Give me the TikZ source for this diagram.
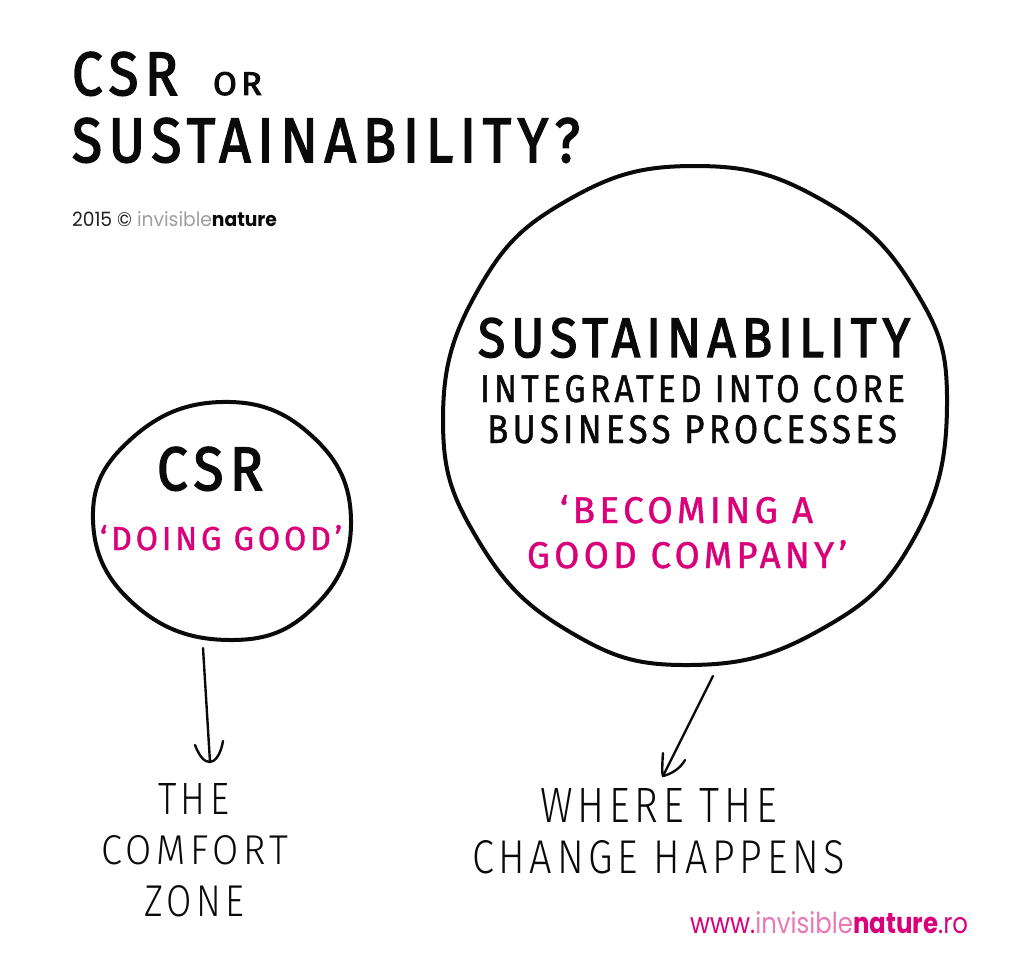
\documentclass[tikz,border=0pt]{standalone}
\usepackage{fontspec}
\usepackage{graphicx}
\usetikzlibrary{calc}
\newfontfamily\hand[LetterSpace=12,FakeBold=1.2]{Fira Sans}
\newfontfamily\handbold[LetterSpace=12,FakeBold=2.6]{Fira Sans}
\newfontfamily\handlight[LetterSpace=12]{Fira Sans Light}
\newfontfamily\geo{Poppins}
\definecolor{inpink}{RGB}{218,0,122}
\definecolor{inpinklight}{RGB}{234,120,180}
\definecolor{ink}{RGB}{10,10,10}
\newcommand\fitt[3]{\resizebox{#1pt}{#2pt}{#3}}
\begin{document}
\begin{tikzpicture}[x=1pt,y=-1pt,
  txt/.style={anchor=north west, inner sep=0pt, outer sep=0pt, text=ink},
  ring/.style={draw=ink, line width=4pt, line join=round},
  pointer/.style={draw=ink, line width=2.4pt, line cap=round, line join=round}]
\fill[white] (0,0) rectangle (1024,955);
\useasboundingbox (0,0) rectangle (1024,955);

% title
\node[txt] (t1) at (72,52) {\fitt{106}{43}{\handbold CSR}};
\node[txt] (t2) at (213,72) {\fitt{49}{23}{\handbold OR}};
\node[txt] (t3) at (72,118) {\fitt{508}{44}{\handbold SUSTAINABILITY?}};
\node[txt] (copy) at (72,211) {\fitt{205}{15}{\geo{\color{ink!90}2015 ©} {\color{gray!75}invisible}{\bfseries nature}}};

% circles
\draw[ring] plot[smooth cycle, tension=0.75] coordinates {
  (947,405) (913,540) (820,630) (690,665) (570,632) (478,540)
  (443,420) (478,290) (568,200) (695,166) (822,200) (915,290)};
\draw[ring] plot[smooth cycle, tension=0.75] coordinates {
  (351,520) (315,606) (230,640) (135,605) (93,520) (130,440)
  (222,402) (312,436)};

% big circle text
\node[txt] (s1) at (478,318) {\fitt{432}{39}{\handbold SUSTAINABILITY}};
\node[txt] (s2) at (480,375) {\fitt{425}{27}{\hand INTEGRATED INTO CORE}};
\node[txt] (s3) at (487,415) {\fitt{410}{28}{\hand BUSINESS PROCESSES}};
\node[txt, text=inpink] (p1) at (560,495) {\fitt{253}{28}{\hand ‘BECOMING A}};
\node[txt, text=inpink] (p2) at (527,540) {\fitt{320}{28}{\hand GOOD COMPANY’}};

% small circle text
\node[txt] (c1) at (157,447) {\fitt{106}{43}{\handbold CSR}};
\node[txt, text=inpink] (c2) at (100,525) {\fitt{242}{25}{\hand ‘DOING GOOD’}};

% arrows
\coordinate (csrfoot) at (203,648);
\coordinate (csrtip) at (210,762);
\draw[pointer] (csrfoot) -- (csrtip);
\draw[pointer] ($(csrtip)+(-15,-17)$) .. controls ($(csrtip)+(-10,-4)$) and ($(csrtip)+(-5,0)$) .. (csrtip)
  .. controls ($(csrtip)+(5,0)$) and ($(csrtip)+(11,-8)$) .. ($(csrtip)+(13,-21)$);
\coordinate (susfoot) at (713,676);
\coordinate (sustip) at (663,776);
\draw[pointer] (susfoot) .. controls (698,706) and (682,738) .. (sustip);
\draw[pointer] ($(sustip)+(0,-23)$) .. controls ($(sustip)+(-1,-10)$) and ($(sustip)+(-1,-2)$) .. (sustip)
  .. controls ($(sustip)+(8,-2)$) and ($(sustip)+(17,-7)$) .. ($(sustip)+(22,-16)$);

% bottom labels
\node[txt] (b1) at (158,783) {\fitt{71}{31}{\handlight THE}};
\node[txt] (b2) at (101,835) {\fitt{187}{29}{\handlight COMFORT}};
\node[txt] (b3) at (144,885) {\fitt{100}{31}{\handlight ZONE}};
\node[txt] (w1) at (540,788) {\fitt{237}{34}{\handlight WHERE THE}};
\node[txt] (w2) at (472,840) {\fitt{373}{33}{\handlight CHANGE HAPPENS}};

% url
\node[txt] (url) at (690,911) {\fitt{278}{22}{\geo\color{inpink}www.{\color{inpinklight}invisible}{\bfseries nature}.ro}};
\end{tikzpicture}
\end{document}
